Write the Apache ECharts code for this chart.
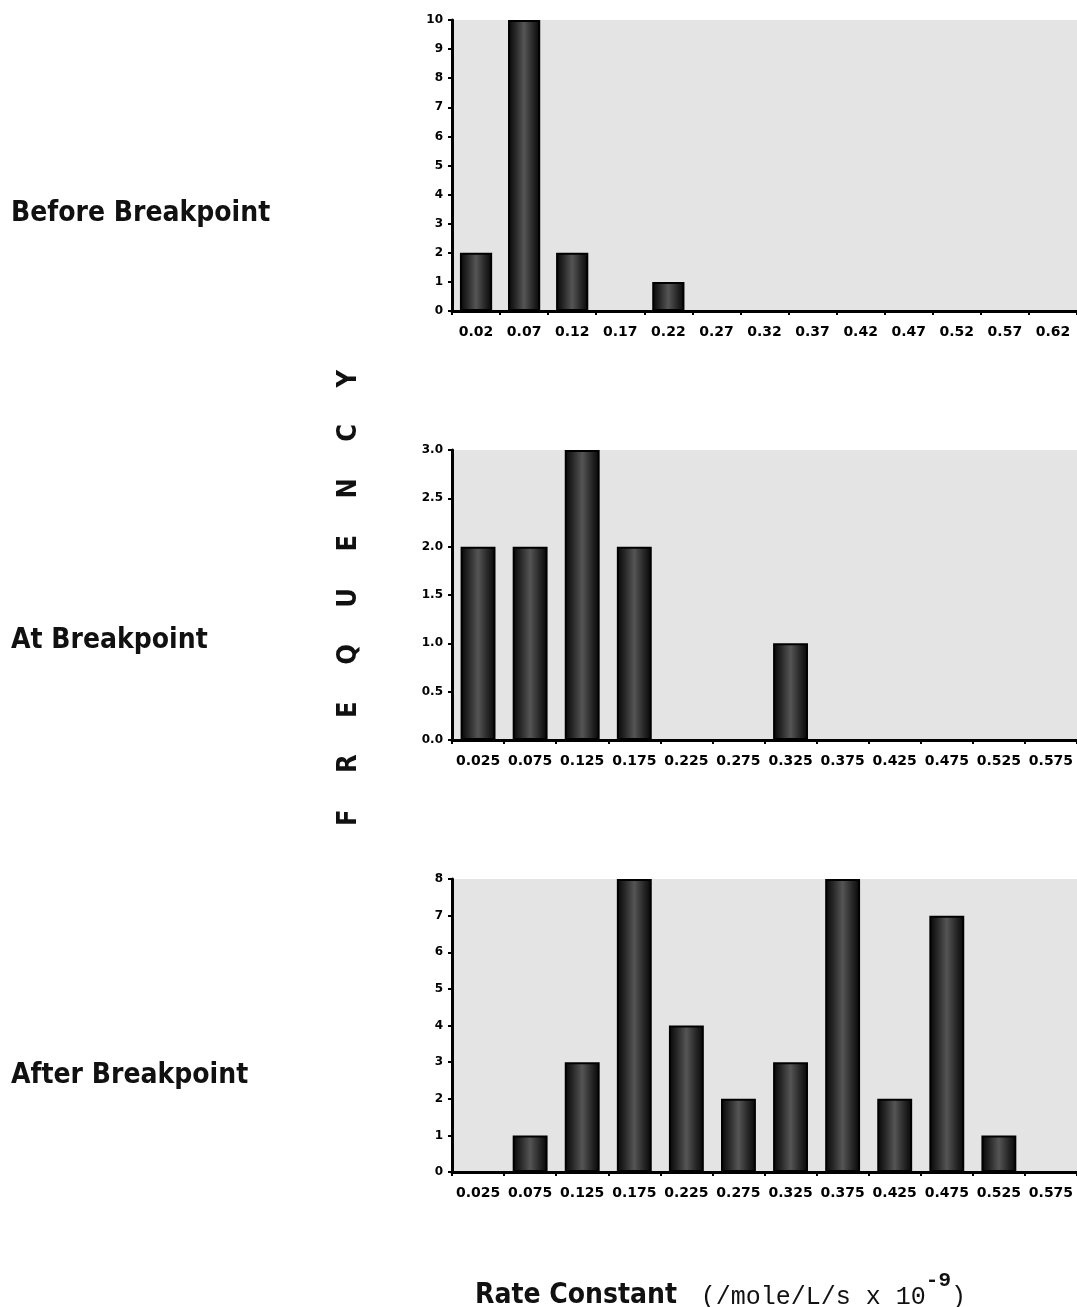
<!DOCTYPE html>
<html>
<head>
<meta charset="utf-8">
<script src="https://cdn.jsdelivr.net/npm/echarts@6/dist/echarts.min.js"></script>
<style>
html,body{margin:0;padding:0;background:#fff;}
#chart{width:1077px;height:1307px;}
</style>
</head>
<body>
<div id="chart"></div>
<script>
// ---- data ----
const categoriesBefore = ['0.02','0.07','0.12','0.17','0.22','0.27','0.32','0.37','0.42','0.47','0.52','0.57','0.62'];
const valuesBefore = [2, 10, 2, 0, 1, 0, 0, 0, 0, 0, 0, 0, 0];

const categoriesAt = ['0.025','0.075','0.125','0.175','0.225','0.275','0.325','0.375','0.425','0.475','0.525','0.575'];
const valuesAt = [2, 2, 3, 2, 0, 0, 1, 0, 0, 0, 0, 0];

const categoriesAfter = ['0.025','0.075','0.125','0.175','0.225','0.275','0.325','0.375','0.425','0.475','0.525','0.575'];
const valuesAfter = [0, 1, 3, 8, 4, 2, 3, 8, 2, 7, 1, 0];

const yMaxBefore = 10, yStepBefore = 1;
const yMaxAt = 3, yStepAt = 0.5;
const yMaxAfter = 8, yStepAfter = 1;

const panelLabels = ['Before Breakpoint', 'At Breakpoint', 'After Breakpoint'];
const yTitle = 'FREQUENCY';
const xTitleMain = 'Rate Constant';
const xTitleUnit = '(/mole/L/s x 10';
const xTitleExp = '-9';

// ---- styles ----
const condensed = "'DejaVu Sans Condensed','Liberation Sans Narrow','DejaVu Sans',sans-serif";
const tickFont = "'DejaVu Sans',sans-serif";
const mono = "'Liberation Mono','DejaVu Sans Mono',monospace";
const barFill = {
  type: 'linear', x: 0, y: 0, x2: 1, y2: 0,
  colorStops: [
    {offset: 0, color: '#050505'},
    {offset: 0.22, color: '#262626'},
    {offset: 0.5, color: '#555555'},
    {offset: 0.78, color: '#262626'},
    {offset: 1, color: '#050505'}
  ]
};

const grids = [
  {left: 452, top: 20, right: 0, height: 291},
  {left: 452, top: 450, right: 0, height: 290},
  {left: 452, top: 879, right: 0, height: 293}
].map(g => Object.assign(g, {show: true, backgroundColor: '#e4e4e4', borderWidth: 0, containLabel: false}));

function xAxis(idx, cats) {
  return {
    type: 'category', gridIndex: idx, data: cats,
    axisLine: {lineStyle: {color: '#000', width: 3}},
    axisTick: {show: true, length: 4, lineStyle: {color: '#000', width: 2}},
    axisLabel: {color: '#000', fontSize: 14, fontWeight: 'bold', fontFamily: tickFont, margin: 14, interval: 0}
  };
}
function yAxis(idx, max, step, fmt) {
  return {
    type: 'value', gridIndex: idx, min: 0, max: max, interval: step,
    axisLine: {show: true, lineStyle: {color: '#000', width: 3}},
    axisTick: {show: true, length: 4, lineStyle: {color: '#000', width: 2}},
    splitLine: {show: false},
    axisLabel: {color: '#000', fontSize: 12, fontWeight: 'bold', fontFamily: tickFont, margin: 9, formatter: fmt}
  };
}
function barSeries(idx, vals) {
  return {
    type: 'bar', xAxisIndex: idx, yAxisIndex: idx, data: vals,
    barWidth: '67%',
    itemStyle: {color: barFill, borderColor: '#000', borderWidth: 2},
    silent: true
  };
}

const chart = echarts.init(document.getElementById('chart'), null, {renderer: 'canvas'});
chart.setOption({
  backgroundColor: '#ffffff',
  animation: false,
  grid: grids,
  xAxis: [xAxis(0, categoriesBefore), xAxis(1, categoriesAt), xAxis(2, categoriesAfter)],
  yAxis: [
    yAxis(0, yMaxBefore, yStepBefore, v => String(v)),
    yAxis(1, yMaxAt, yStepAt, v => v.toFixed(1)),
    yAxis(2, yMaxAfter, yStepAfter, v => String(v))
  ],
  series: [barSeries(0, valuesBefore), barSeries(1, valuesAt), barSeries(2, valuesAfter)],
  graphic: [
    {type: 'text', x: 11, y: 214, style: {text: panelLabels[0], fontSize: 28, fontWeight: 'bold', fontFamily: condensed, fill: '#111', align: 'left', verticalAlign: 'middle'}},
    {type: 'text', x: 11, y: 641, style: {text: panelLabels[1], fontSize: 28, fontWeight: 'bold', fontFamily: condensed, fill: '#111', align: 'left', verticalAlign: 'middle'}},
    {type: 'text', x: 11, y: 1076, style: {text: panelLabels[2], fontSize: 28, fontWeight: 'bold', fontFamily: condensed, fill: '#111', align: 'left', verticalAlign: 'middle'}},
    {type: 'text', x: 349, y: 598, rotation: Math.PI / 2,
      style: {text: yTitle.split('').join('\u2003\u2002'), fontSize: 27, fontWeight: 'bold', fontFamily: condensed, fill: '#111', align: 'center', verticalAlign: 'middle'}},
    {type: 'text', x: 475, y: 1290,
      style: {
        text: '{a|' + xTitleMain + ' }{b| ' + xTitleUnit + '}{c|' + xTitleExp + '}{b|)}',
        align: 'left', verticalAlign: 'middle',
        rich: {
          a: {fontSize: 28, fontWeight: 'bold', fontFamily: condensed, fill: '#111', lineHeight: 40, verticalAlign: 'bottom'},
          b: {fontSize: 25, fontFamily: mono, fill: '#111', lineHeight: 40, verticalAlign: 'bottom'},
          c: {fontSize: 21, fontWeight: 'bold', fontFamily: mono, fill: '#111', lineHeight: 40, verticalAlign: 'top'}
        }
      }}
  ]
});
</script>
</body>
</html>
